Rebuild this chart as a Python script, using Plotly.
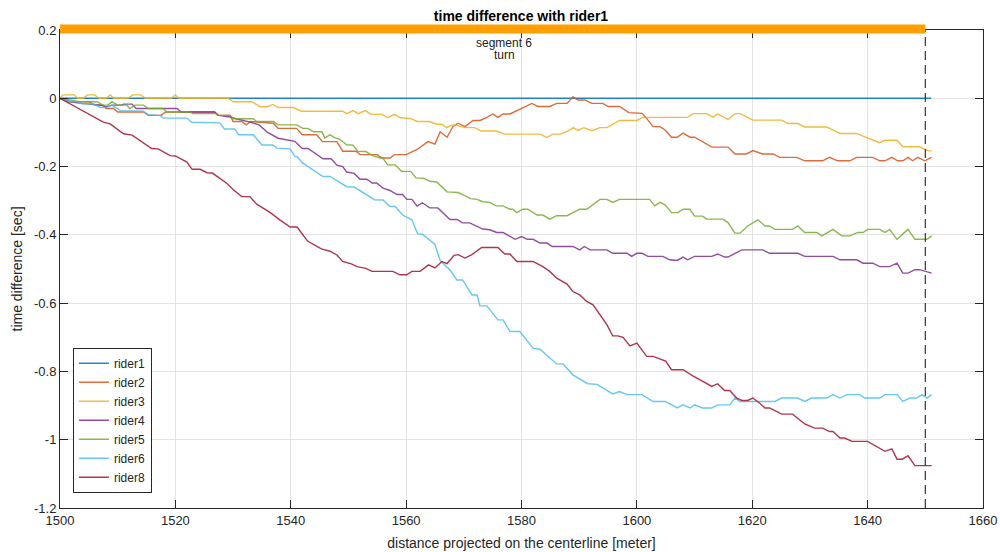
import plotly.graph_objects as go

# ---------------- data ----------------
x_ticks = [1500, 1520, 1540, 1560, 1580, 1600, 1620, 1640, 1660]
y_tickvals = [-1.2, -1.0, -0.8, -0.6, -0.4, -0.2, 0.0, 0.2]
y_ticktext = ["-1.2", "-1", "-0.8", "-0.6", "-0.4", "-0.2", "0", "0.2"]

segment_start = 1500
segment_end = 1650
segment_label = "segment 6"
segment_type = "turn"
segment_label_x = 1577

rider1_x = [1500, 1651]
rider1_y = [0, 0]

rider2_x = [1500, 1501.5, 1505, 1506, 1507.5, 1508, 1509.3, 1510, 1514.5, 1515.3, 1517.5, 1518.3, 1526.8, 1527.3,
            1529.5, 1530, 1531.5, 1532.3, 1533, 1537, 1537.8, 1541, 1542, 1544.5, 1545.5, 1548, 1549, 1551.3,
            1552, 1555, 1555.8, 1557.2, 1558, 1560, 1561.9, 1563.8, 1565, 1565.9, 1567.1, 1568.1, 1569, 1570.2,
            1571.6, 1572.8, 1574, 1575, 1575.9, 1576.8, 1578, 1579.2, 1580.2, 1581.8, 1582.8, 1584.9, 1586.1,
            1587.9, 1588.9, 1589.8, 1591, 1592.2, 1594.1, 1595, 1597, 1598.6, 1600.9, 1601.7, 1602.8, 1604,
            1604.9, 1606, 1607, 1608, 1609.2, 1610, 1613, 1615.8, 1617, 1619, 1620.1, 1621.8, 1623.6, 1624.8,
            1627.7, 1629.1, 1632.2, 1633.4, 1634.8, 1636.9, 1638.1, 1640.9, 1642.1, 1643, 1644.2, 1645.2,
            1646.1, 1647, 1647.8, 1648.7, 1649.9, 1651.1]
rider2_y = [0, -0.01, -0.01, -0.02, -0.02, -0.03, -0.03, -0.04, -0.04, -0.05, -0.05, -0.04, -0.04, -0.05,
            -0.05, -0.068, -0.068, -0.078, -0.068, -0.073, -0.088, -0.088, -0.107, -0.107, -0.127, -0.127, -0.155, -0.155,
            -0.165, -0.165, -0.175, -0.175, -0.165, -0.165, -0.15, -0.127, -0.134, -0.098, -0.114, -0.083, -0.073, -0.083,
            -0.065, -0.065, -0.056, -0.046, -0.056, -0.046, -0.046, -0.036, -0.026, -0.015, -0.024, -0.024, -0.015,
            -0.015, 0.004, -0.005, -0.005, -0.015, -0.015, -0.024, -0.024, -0.042, -0.044, -0.059, -0.083, -0.083,
            -0.093, -0.114, -0.114, -0.102, -0.114, -0.114, -0.143, -0.143, -0.163, -0.163, -0.153, -0.163, -0.163, -0.173,
            -0.173, -0.183, -0.183, -0.173, -0.183, -0.183, -0.173, -0.173, -0.183, -0.183, -0.173, -0.183,
            -0.183, -0.173, -0.183, -0.173, -0.183, -0.173]

rider3_x = [1500, 1500.5, 1502.5, 1503, 1504, 1504.8, 1506, 1506.8, 1508, 1508.7, 1509.3, 1511.8, 1512.6, 1514,
            1514.8, 1519.3, 1520, 1520.6, 1529.2, 1530, 1533.3, 1534.7, 1536, 1536.9, 1537.8, 1540.4, 1541.9, 1549,
            1549.7, 1550.8, 1551.7, 1552.9, 1554, 1555.8, 1556.8, 1558, 1559, 1560.7, 1561.9, 1564, 1565.3, 1566.2,
            1567, 1568, 1569, 1570.2, 1571.9, 1573, 1575.7, 1577, 1583.2, 1584.4, 1585.4, 1586.7, 1588, 1589,
            1589.8, 1590.8, 1592.2, 1593.6, 1594.8, 1596, 1597, 1600, 1601, 1608.8, 1609.7, 1612.1, 1613.2,
            1614, 1615.8, 1617, 1617.9, 1620.1, 1625.1, 1626.2, 1627.9, 1629.1, 1632.9, 1635.2, 1638.1, 1639.5,
            1642.1, 1643, 1645.1, 1646.1, 1649, 1650.5, 1651.1]
rider3_y = [0, 0.01, 0.01, 0, 0, 0.01, 0.01, 0, 0, 0.01, 0, 0, 0.01, 0.01,
            0, 0, 0.01, 0, 0, -0.01, -0.01, -0.025, -0.025, -0.018, -0.027, -0.027, -0.038, -0.038,
            -0.045, -0.036, -0.045, -0.036, -0.047, -0.047, -0.057, -0.047, -0.057, -0.059, -0.068, -0.068, -0.076, -0.076,
            -0.086, -0.078, -0.08, -0.086, -0.086, -0.096, -0.096, -0.105, -0.105, -0.115, -0.105, -0.105, -0.096, -0.086,
            -0.094, -0.086, -0.095, -0.086, -0.086, -0.075, -0.065, -0.065, -0.056, -0.056, -0.045, -0.045, -0.055,
            -0.046, -0.062, -0.045, -0.045, -0.064, -0.064, -0.074, -0.074, -0.084, -0.084, -0.103, -0.103, -0.113,
            -0.13, -0.123, -0.123, -0.142, -0.142, -0.154, -0.154]

rider4_x = [1500, 1501.7, 1503.8, 1507, 1508, 1509, 1510.7, 1511, 1512.5, 1513.2, 1520.3, 1521, 1526.8, 1527.5,
            1529.5, 1530.5, 1533, 1534.5, 1536, 1537.8, 1540.7, 1542, 1543, 1545.6, 1547, 1548, 1549, 1549.7,
            1551, 1552, 1553.2, 1554.1, 1554.9, 1556, 1557.2, 1558.4, 1559.4, 1560.1, 1561, 1561.9, 1562.8,
            1564.1, 1565.5, 1567.6, 1568.8, 1569.8, 1571, 1572.3, 1573.3, 1574.5, 1575.7, 1576.8, 1578.9, 1580,
            1581, 1582, 1583.2, 1584.4, 1585.3, 1588.9, 1590.1, 1590.9, 1591.9, 1594.8, 1595.8, 1598.3, 1599.1,
            1600, 1600.9, 1601.9, 1604.5, 1605.7, 1607, 1608, 1608.8, 1610, 1613, 1614, 1615.2, 1615.8, 1618.2,
            1621.8, 1623, 1627.9, 1629.1, 1634, 1635.2, 1638.1, 1639.2, 1640.9, 1642.1, 1643.8, 1645.1, 1646.1,
            1647, 1648.2, 1649, 1651.1]
rider4_y = [0, -0.01, -0.015, -0.02, -0.025, -0.02, -0.02, -0.017, -0.017, -0.03, -0.03, -0.04, -0.04, -0.05,
            -0.055, -0.06, -0.07, -0.078, -0.1, -0.117, -0.126, -0.147, -0.147, -0.177, -0.177, -0.196, -0.2, -0.216,
            -0.22, -0.237, -0.237, -0.248, -0.248, -0.263, -0.27, -0.282, -0.282, -0.296, -0.296, -0.316, -0.306,
            -0.321, -0.321, -0.355, -0.355, -0.365, -0.365, -0.375, -0.383, -0.385, -0.393, -0.393, -0.413, -0.405,
            -0.413, -0.413, -0.424, -0.424, -0.434, -0.434, -0.444, -0.434, -0.444, -0.444, -0.454, -0.454, -0.463,
            -0.454, -0.454, -0.463, -0.463, -0.473, -0.475, -0.465, -0.473, -0.463, -0.463, -0.456, -0.465, -0.465, -0.444,
            -0.444, -0.454, -0.454, -0.463, -0.463, -0.473, -0.473, -0.483, -0.483, -0.493, -0.493, -0.483, -0.512,
            -0.512, -0.502, -0.502, -0.512]

rider5_x = [1500, 1501.5, 1503.5, 1506.4, 1507.5, 1508.3, 1509, 1510, 1511.6, 1512.1, 1513, 1514.5, 1515.3, 1517.9,
            1518.5, 1522.5, 1523, 1527, 1527.5, 1529.5, 1530, 1533.5, 1534.1, 1537, 1537.8, 1541, 1542.1, 1543,
            1543.9, 1545.4, 1545.9, 1546.8, 1547.7, 1548.5, 1549.7, 1550.8, 1551.6, 1553, 1554.2, 1555.5, 1556,
            1556.8, 1558.1, 1559.2, 1560.8, 1561.7, 1563, 1564.1, 1565.3, 1567.1, 1569, 1569.8, 1571.2, 1572.3,
            1573.3, 1574.5, 1575.6, 1576.8, 1578, 1578.5, 1579.2, 1580.2, 1581.1, 1582.7, 1583.7, 1584.9, 1586.1,
            1587.9, 1590.1, 1591.3, 1593.6, 1594.8, 1595.8, 1597, 1602.2, 1603.1, 1604, 1604.9, 1606, 1607.1,
            1608, 1609.2, 1610, 1611.4, 1612.1, 1614.9, 1615.8, 1617, 1617.9, 1619.2, 1621, 1622.2, 1623, 1623.9,
            1627, 1627.9, 1629.1, 1631.2, 1632.1, 1634, 1635.5, 1636.9, 1638.3, 1639.2, 1640, 1642.1, 1643,
            1643.8, 1645.1, 1647, 1648.2, 1650.3, 1651.1]
rider5_y = [0, -0.005, -0.01, -0.01, -0.02, -0.02, -0.01, -0.02, -0.02, -0.03, -0.02, -0.02, -0.03, -0.03,
            -0.04, -0.04, -0.045, -0.045, -0.05, -0.05, -0.06, -0.06, -0.068, -0.068, -0.078, -0.078, -0.088, -0.088,
            -0.098, -0.098, -0.116, -0.107, -0.116, -0.12, -0.136, -0.137, -0.155, -0.156, -0.168, -0.175, -0.176,
            -0.195, -0.195, -0.214, -0.214, -0.233, -0.234, -0.243, -0.245, -0.274, -0.276, -0.282, -0.294, -0.296,
            -0.303, -0.305, -0.315, -0.315, -0.325, -0.325, -0.335, -0.325, -0.325, -0.342, -0.342, -0.354, -0.344,
            -0.344, -0.325, -0.325, -0.296, -0.296, -0.305, -0.296, -0.296, -0.315, -0.305, -0.312, -0.335, -0.335,
            -0.325, -0.325, -0.345, -0.345, -0.354, -0.354, -0.364, -0.395, -0.395, -0.374, -0.356, -0.374, -0.374, -0.384,
            -0.384, -0.374, -0.393, -0.393, -0.403, -0.384, -0.403, -0.403, -0.393, -0.393, -0.384, -0.384, -0.393,
            -0.384, -0.413, -0.384, -0.413, -0.413, -0.403]

rider6_x = [1500, 1501.7, 1503, 1503.8, 1505.7, 1507, 1508.1, 1509, 1510.5, 1514.4, 1515.3, 1517.3, 1517.9, 1522,
            1522.8, 1527.7, 1528.5, 1530.3, 1531, 1533.5, 1535, 1536.9, 1537.6, 1539.9, 1540.7, 1541.1, 1542.1,
            1545.6, 1546.8, 1549.7, 1551, 1552, 1554.5, 1556, 1557.2, 1558.1, 1559.4, 1561, 1562, 1562.9, 1564.1,
            1565, 1565.9, 1567.6, 1568.8, 1569.8, 1571.4, 1572.3, 1572.8, 1574, 1575.9, 1576.8, 1578, 1579.7,
            1582, 1583.2, 1584.6, 1586.1, 1587.2, 1588.9, 1591.5, 1593.1, 1595.8, 1597, 1598.3, 1600.9, 1602.8,
            1604.9, 1607, 1608, 1609.2, 1610, 1611.3, 1613, 1614, 1616.1, 1617, 1617.9, 1623.9, 1625.1, 1627.9,
            1629.1, 1630.3, 1632.9, 1634, 1635.2, 1636.4, 1638.6, 1639.5, 1642.1, 1643, 1645.1, 1646.1, 1647.3,
            1648.5, 1649.4, 1650.3, 1651.1]
rider6_y = [0, -0.01, -0.01, -0.016, -0.016, -0.027, -0.027, -0.02, -0.036, -0.038, -0.048, -0.05, -0.058, -0.058,
            -0.07, -0.072, -0.09, -0.09, -0.107, -0.107, -0.137, -0.137, -0.146, -0.148, -0.17, -0.171, -0.19,
            -0.229, -0.229, -0.259, -0.26, -0.27, -0.297, -0.298, -0.317, -0.317, -0.342, -0.356, -0.397, -0.399, -0.415,
            -0.428, -0.475, -0.503, -0.532, -0.532, -0.576, -0.576, -0.608, -0.608, -0.649, -0.649, -0.683, -0.683,
            -0.732, -0.735, -0.756, -0.778, -0.778, -0.81, -0.836, -0.838, -0.866, -0.859, -0.868, -0.868, -0.888,
            -0.888, -0.907, -0.898, -0.907, -0.898, -0.907, -0.907, -0.898, -0.898, -0.878, -0.888, -0.888, -0.878, -0.878,
            -0.888, -0.878, -0.878, -0.868, -0.878, -0.868, -0.868, -0.878, -0.878, -0.868, -0.868, -0.888, -0.878,
            -0.878, -0.868, -0.878, -0.868]

rider8_x = [1500, 1507.5, 1508.7, 1509.5, 1511, 1512.5, 1515.9, 1517, 1519.1, 1520, 1522, 1522.9, 1524.3, 1525.5,
            1526.4, 1528.9, 1530, 1531.5, 1532.9, 1534.1, 1536.4, 1538.1, 1539.9, 1541.1, 1542.9, 1545.3, 1546.8,
            1548, 1549, 1550.5, 1551.5, 1553, 1554.1, 1557.7, 1558.9, 1560.1, 1561, 1562.4, 1563.9, 1565, 1566.2,
            1567.1, 1568.3, 1569, 1570.2, 1571.4, 1573.1, 1575.9, 1577.1, 1578, 1579.2, 1582, 1583.7, 1584.9,
            1586.1, 1587.9, 1588.9, 1590.1, 1591.3, 1592.4, 1593.6, 1594.8, 1595.8, 1596.7, 1597.6, 1598.8, 1600,
            1601.7, 1602.8, 1604.3, 1605, 1606, 1608, 1609.7, 1613, 1614, 1615.2, 1616.1, 1617.3, 1618.2, 1619.2,
            1620.1, 1621.3, 1622.2, 1623, 1625.1, 1627, 1629.1, 1630.8, 1632.2, 1633.4, 1634, 1635.2, 1636,
            1637.3, 1640, 1643, 1644.2, 1645.1, 1646, 1647, 1648.2, 1651.1]
rider8_y = [0, -0.07, -0.075, -0.085, -0.104, -0.108, -0.147, -0.148, -0.168, -0.169, -0.187, -0.208, -0.208, -0.218,
            -0.219, -0.249, -0.267, -0.288, -0.288, -0.31, -0.334, -0.356, -0.377, -0.377, -0.418, -0.441, -0.448,
            -0.459, -0.478, -0.485, -0.493, -0.498, -0.507, -0.507, -0.517, -0.517, -0.507, -0.507, -0.488, -0.497, -0.478,
            -0.484, -0.46, -0.458, -0.468, -0.458, -0.437, -0.437, -0.456, -0.456, -0.478, -0.478, -0.493, -0.507,
            -0.527, -0.544, -0.566, -0.576, -0.595, -0.605, -0.634, -0.663, -0.696, -0.696, -0.7, -0.725, -0.717,
            -0.756, -0.756, -0.766, -0.77, -0.795, -0.795, -0.813, -0.844, -0.836, -0.856, -0.856, -0.878, -0.885, -0.885,
            -0.878, -0.893, -0.907, -0.907, -0.925, -0.925, -0.954, -0.966, -0.966, -0.976, -0.976, -0.995, -0.995,
            -1.005, -1.005, -1.034, -1.027, -1.057, -1.057, -1.047, -1.076, -1.076]

series = [
    ("rider1", rider1_x, rider1_y, "#0072BD"),
    ("rider2", rider2_x, rider2_y, "#D95319"),
    ("rider3", rider3_x, rider3_y, "#EDB120"),
    ("rider4", rider4_x, rider4_y, "#7E2F8E"),
    ("rider5", rider5_x, rider5_y, "#77AC30"),
    ("rider6", rider6_x, rider6_y, "#4DBEEE"),
    ("rider8", rider8_x, rider8_y, "#A2142F"),
]

# ---------------- figure ----------------
FONT = "Liberation Sans, Arial, sans-serif"
AX = "#262626"

fig = go.Figure()
for name, xs, ys, col in series:
    fig.add_trace(go.Scatter(x=xs, y=ys, mode="lines", name=name, opacity=0.85,
                             line=dict(color=col, width=1.4)))

# dashed end-of-segment marker
fig.add_shape(type="line", xref="x", yref="paper", x0=segment_end, x1=segment_end, y0=0, y1=1,
              line=dict(color="#333333", width=1.2, dash="9px,5px"))
# segment bar at top
fig.add_shape(type="rect", xref="x", yref="paper", x0=segment_start, x1=segment_end,
              y0=1 - 3.5 / 478, y1=1 + 5.5 / 478, fillcolor="#FF9F00", line=dict(width=0))

fig.add_annotation(x=segment_label_x, y=0.163, xref="x", yref="y", text=segment_label, showarrow=False,
                   font=dict(family=FONT, size=12, color="#222222"))
fig.add_annotation(x=segment_label_x, y=0.127, xref="x", yref="y", text=segment_type, showarrow=False,
                   font=dict(family=FONT, size=12, color="#222222"))

fig.update_layout(
    width=1000, height=552,
    margin=dict(l=60, r=17, t=30, b=44, autoexpand=False),
    paper_bgcolor="white", plot_bgcolor="white",
    font=dict(family=FONT, size=13, color=AX),
    title=dict(text="<b>time difference with rider1</b>", x=0.521, xanchor="center",
               y=1 - 16 / 552, yanchor="middle", font=dict(family=FONT, size=14, color="#000000")),
    showlegend=True,
    legend=dict(x=0.014, y=0.032, xanchor="left", yanchor="bottom",
                bgcolor="white", bordercolor=AX, borderwidth=1,
                font=dict(family=FONT, size=12, color=AX), tracegroupgap=0),
)
fig.update_xaxes(range=[1500, 1660], tickvals=x_ticks, ticktext=[str(v) for v in x_ticks],
                 automargin=False,
                 showgrid=True, gridcolor="#E3E3E3", gridwidth=1, zeroline=False,
                 showline=True, linecolor=AX, linewidth=1, mirror="ticks",
                 ticks="inside", ticklen=8, tickcolor=AX,
                 title=dict(text="distance projected on the centerline [meter]", font=dict(size=14), standoff=11),
                 tickfont=dict(size=13))
fig.update_yaxes(range=[-1.2, 0.2], tickvals=y_tickvals, ticktext=y_ticktext,
                 automargin=False,
                 showgrid=True, gridcolor="#E3E3E3", gridwidth=1, zeroline=False,
                 showline=True, linecolor=AX, linewidth=1, mirror="ticks",
                 ticks="inside", ticklen=8, tickcolor=AX,
                 title=dict(text="time difference [sec]", font=dict(size=14), standoff=8),
                 tickfont=dict(size=13))

fig.write_html("out.html")
